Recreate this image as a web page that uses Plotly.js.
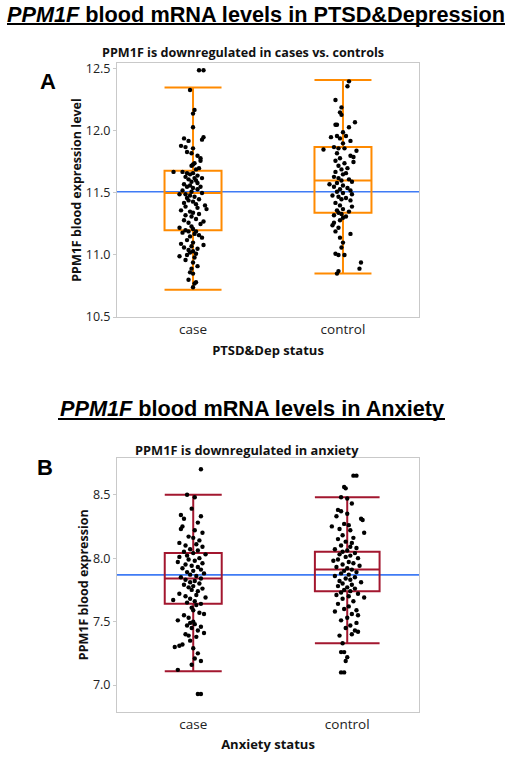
<!DOCTYPE html>
<html>
<head>
<meta charset="utf-8">
<script src="https://cdn.plot.ly/plotly-3.0.1.min.js"></script>
<style>html,body{margin:0;padding:0;background:#fff;}#chart{width:512px;height:759px;}</style>
</head>
<body>
<div id="chart"></div>
<script>
// ---------- DATA ----------
var groups = ['case', 'control'];

// Panel A: PTSD & Depression
var caseA_y = [12.49,12.49,12.33,12.17,12.14,12.03,11.94,11.93,11.95,11.92,11.88,11.87,11.86,11.83,11.82,11.80,11.78,11.76,11.74,11.73,11.72,11.70,11.69,11.67,11.67,11.66,11.66,11.65,11.64,11.63,11.62,11.62,11.61,11.60,11.59,11.58,11.57,11.56,11.55,11.55,11.54,11.53,11.52,11.51,11.50,11.49,11.49,11.48,11.47,11.46,11.45,11.44,11.43,11.42,11.41,11.40,11.39,11.38,11.37,11.36,11.35,11.34,11.33,11.32,11.31,11.29,11.28,11.27,11.26,11.25,11.23,11.22,11.21,11.20,11.19,11.19,11.18,11.17,11.16,11.15,11.14,11.12,11.10,11.09,11.08,11.07,11.06,11.05,11.04,11.03,11.02,11.01,11.00,10.99,10.98,10.96,10.94,10.91,10.89,10.86,10.85,10.80,10.78,10.77,10.74];
var caseA_jit = [0.04,0.07,-0.02,0.01,0.00,0.00,-0.06,0.06,0.07,-0.03,-0.08,-0.05,0.00,-0.04,-0.01,0.03,0.05,0.05,0.01,0.00,-0.01,0.04,0.02,-0.13,-0.07,-0.04,0.00,-0.02,0.03,-0.05,0.01,0.06,-0.03,0.02,-0.01,0.03,-0.06,-0.02,-0.04,0.05,0.00,0.03,-0.07,-0.01,0.06,-0.09,-0.05,-0.02,0.01,-0.04,0.04,-0.03,0.00,-0.06,0.02,0.08,-0.05,0.03,0.09,-0.08,-0.02,0.00,0.04,-0.05,-0.01,0.02,-0.06,0.07,-0.03,0.05,-0.01,-0.09,0.00,-0.05,-0.03,0.02,-0.07,0.01,0.04,-0.02,0.06,-0.04,0.00,-0.08,0.07,-0.01,-0.06,0.03,-0.03,0.00,-0.02,0.02,-0.04,-0.09,0.01,-0.05,0.00,0.03,-0.01,-0.02,0.00,-0.03,0.02,0.01,0.00];
var ctrlA_y = [12.40,12.36,12.25,12.19,12.15,12.13,12.07,12.05,12.05,12.03,11.99,11.96,11.96,11.95,11.94,11.92,11.90,11.87,11.86,11.86,11.85,11.84,11.82,11.80,11.79,11.78,11.76,11.75,11.74,11.72,11.70,11.69,11.67,11.66,11.65,11.63,11.62,11.61,11.60,11.59,11.58,11.57,11.56,11.55,11.54,11.53,11.52,11.51,11.50,11.49,11.48,11.47,11.46,11.45,11.44,11.42,11.40,11.39,11.37,11.36,11.35,11.34,11.33,11.32,11.31,11.30,11.28,11.26,11.24,11.22,11.19,11.17,11.14,11.10,11.06,11.01,11.00,11.00,10.94,10.89,10.87,10.85];
var ctrlA_jit = [0.04,0.03,-0.05,-0.01,-0.02,-0.01,0.08,-0.05,-0.04,0.04,0.00,-0.04,0.02,-0.08,-0.02,0.05,0.00,-0.06,-0.03,0.01,-0.13,0.09,-0.04,0.05,0.07,-0.02,-0.05,0.07,0.01,-0.03,0.03,-0.01,-0.05,0.02,0.00,-0.06,-0.03,0.04,-0.01,0.06,-0.04,-0.09,0.00,-0.06,0.03,-0.02,0.05,-0.04,0.00,0.06,-0.07,-0.03,0.02,-0.01,0.05,-0.05,-0.02,0.06,0.00,-0.04,0.04,-0.03,-0.01,-0.06,0.02,0.00,-0.02,-0.06,-0.07,-0.03,-0.05,0.05,-0.02,0.00,-0.01,-0.05,-0.03,0.01,0.12,0.11,-0.03,-0.04];
// box statistics [case, control]
var q1A = [11.20, 11.34];
var medA = [11.50, 11.60];
var q3A = [11.68, 11.87];
var loA = [10.72, 10.85];
var hiA = [12.35, 12.41];
var meanA = 11.51;

// Panel B: Anxiety
var caseB_y = [8.70,8.50,8.48,8.39,8.34,8.33,8.31,8.28,8.25,8.23,8.22,8.20,8.17,8.16,8.14,8.12,8.11,8.10,8.09,8.07,8.06,8.05,8.04,8.03,8.02,8.01,8.00,7.99,7.98,7.97,7.96,7.95,7.94,7.93,7.92,7.91,7.90,7.89,7.88,7.87,7.86,7.85,7.84,7.83,7.82,7.81,7.80,7.79,7.78,7.77,7.76,7.75,7.74,7.72,7.71,7.70,7.69,7.68,7.67,7.66,7.65,7.64,7.63,7.61,7.59,7.57,7.56,7.55,7.53,7.51,7.50,7.49,7.48,7.47,7.46,7.45,7.43,7.41,7.40,7.39,7.38,7.35,7.32,7.31,7.30,7.29,7.25,7.21,7.19,7.16,7.12,6.93,6.93];
var caseB_jit = [0.05,-0.04,0.01,-0.01,-0.08,0.05,-0.06,0.03,-0.07,-0.08,0.01,0.06,-0.03,0.00,0.04,-0.09,0.02,-0.05,0.06,-0.02,0.03,-0.06,0.00,0.08,-0.04,-0.09,0.04,-0.03,0.01,-0.10,0.06,-0.05,-0.01,0.03,-0.07,0.05,0.00,-0.04,0.07,-0.02,0.02,-0.08,0.05,-0.05,0.01,-0.02,0.04,-0.06,0.00,-0.03,0.06,-0.01,0.03,-0.09,0.02,-0.05,0.08,-0.02,-0.13,0.01,-0.04,0.05,0.02,-0.01,0.00,0.04,0.07,-0.06,-0.03,-0.10,0.00,-0.02,0.01,-0.04,0.05,-0.01,0.03,0.07,-0.05,-0.03,0.02,-0.02,-0.07,-0.09,-0.12,0.00,0.03,0.01,0.05,-0.01,-0.10,0.03,0.05];
var ctrlB_y = [8.65,8.65,8.56,8.55,8.48,8.47,8.43,8.38,8.37,8.35,8.33,8.31,8.30,8.27,8.26,8.25,8.23,8.22,8.20,8.18,8.16,8.15,8.13,8.12,8.10,8.09,8.08,8.07,8.06,8.05,8.04,8.03,8.02,8.01,8.00,7.99,7.98,7.97,7.96,7.95,7.94,7.93,7.92,7.91,7.90,7.89,7.88,7.87,7.86,7.85,7.84,7.83,7.82,7.81,7.80,7.79,7.78,7.77,7.76,7.75,7.74,7.73,7.72,7.71,7.70,7.69,7.68,7.66,7.64,7.62,7.60,7.59,7.58,7.56,7.55,7.53,7.51,7.49,7.47,7.45,7.43,7.42,7.40,7.39,7.33,7.26,7.26,7.22,7.19,7.10,7.10];
var ctrlB_jit = [0.04,0.06,-0.02,-0.01,-0.04,0.00,0.03,-0.06,-0.04,0.00,-0.07,0.09,0.10,-0.02,0.01,-0.10,-0.05,0.02,0.11,-0.03,0.04,-0.06,-0.01,0.03,-0.04,0.02,0.06,-0.08,0.00,-0.03,0.05,-0.05,0.02,-0.01,0.07,-0.06,-0.09,0.01,0.04,-0.03,0.08,-0.07,0.00,0.03,-0.02,0.06,-0.04,0.01,-0.08,0.05,-0.01,0.02,-0.05,0.09,-0.03,0.03,-0.06,0.00,0.05,-0.02,0.02,-0.04,0.07,-0.07,0.01,0.11,-0.03,0.04,-0.06,0.01,-0.02,0.06,-0.08,0.03,0.07,0.00,-0.04,0.06,0.02,-0.01,0.05,0.07,0.03,-0.05,-0.03,-0.04,-0.02,0.00,-0.01,-0.04,-0.02];
var q1B = [7.64, 7.74];
var medB = [7.84, 7.91];
var q3B = [8.04, 8.05];
var loB = [7.11, 7.33];
var hiB = [8.50, 8.48];
var meanB = 7.868;

// ---------- STYLE ----------
var orange = '#FF8A00';
var crimson = '#A3172F';
var blue = '#3F7BF5';
var frameCol = '#c9c9c9';
var sansUI = '"Open Sans", "Noto Sans", sans-serif';
var arial = '"Liberation Sans", Arial, sans-serif';

function jitterX(idx, jit) { return jit.map(function (j) { return idx + j; }); }

function boxTrace(i, q1, med, q3, lo, hi, color, width, xa, ya) {
  return {
    type: 'box', x: [i], q1: [q1[i]], median: [med[i]], q3: [q3[i]],
    lowerfence: [lo[i]], upperfence: [hi[i]], width: width, whiskerwidth: 1,
    boxpoints: false, fillcolor: 'rgba(0,0,0,0)',
    line: { color: color, width: 2 }, xaxis: xa, yaxis: ya,
    hoverinfo: 'skip', showlegend: false
  };
}
function dotTrace(i, ys, jit, xa, ya) {
  return {
    type: 'scatter', mode: 'markers', x: jitterX(i, jit), y: ys,
    marker: { color: '#000', size: 4.4 }, xaxis: xa, yaxis: ya,
    hoverinfo: 'skip', showlegend: false, cliponaxis: false
  };
}

var traces = [
  boxTrace(0, q1A, medA, q3A, loA, hiA, orange, 0.38, 'x', 'y'),
  boxTrace(1, q1A, medA, q3A, loA, hiA, orange, 0.38, 'x', 'y'),
  dotTrace(0, caseA_y, caseA_jit, 'x', 'y'),
  dotTrace(1, ctrlA_y, ctrlA_jit, 'x', 'y'),
  boxTrace(0, q1B, medB, q3B, loB, hiB, crimson, 0.37, 'x2', 'y2'),
  boxTrace(1, q1B, medB, q3B, loB, hiB, crimson, 0.42, 'x2', 'y2'),
  dotTrace(0, caseB_y, caseB_jit, 'x2', 'y2'),
  dotTrace(1, ctrlB_y, ctrlB_jit, 'x2', 'y2')
];

function xAxis(domain, range, anchor, title) {
  return {
    domain: domain, range: range, anchor: anchor,
    tickvals: [0, 1], ticktext: groups, ticks: '', ticklabelstandoff: 0,
    showgrid: false, zeroline: false, showline: true, mirror: true,
    linecolor: frameCol, linewidth: 1,
    tickfont: { family: sansUI, size: 13.5, color: '#222' },
    title: { text: '<b>' + title + '</b>', standoff: 8, font: { family: sansUI, size: 13, color: '#111' } }
  };
}
function yAxis(domain, range, anchor, dtick, tick0, title) {
  return {
    domain: domain, range: range, anchor: anchor, dtick: dtick, tick0: tick0,
    tickformat: '.1f', ticks: 'outside', ticklen: 3, tickcolor: frameCol, tickwidth: 1,
    ticklabelstandoff: 0,
    showgrid: false, zeroline: false, showline: true, mirror: true,
    linecolor: frameCol, linewidth: 1,
    tickfont: { family: sansUI, size: 12.5, color: '#222' },
    title: { text: '<b>' + title + '</b>', standoff: 1, font: { family: sansUI, size: 12.5, color: '#111' } }
  };
}

var layout = {
  width: 512, height: 759,
  margin: { l: 0, r: 0, t: 0, b: 0 },
  paper_bgcolor: '#fff', plot_bgcolor: '#fff',
  showlegend: false,
  xaxis: xAxis([117 / 512, 419 / 512], [-0.507, 1.507], 'y', 'PTSD&amp;Dep status'),
  yaxis: yAxis([1 - 317 / 759, 1 - 63 / 759], [10.5, 12.548], 'x', 0.5, 10.5, 'PPM1F blood expression level'),
  xaxis2: xAxis([117 / 512, 419 / 512], [-0.495, 1.466], 'y2', 'Anxiety status'),
  yaxis2: yAxis([47.5 / 759, 1 - 458 / 759], [6.792, 8.789], 'x2', 0.5, 7.0, 'PPM1F blood expression'),
  shapes: [
    { type: 'line', xref: 'x domain', yref: 'y', x0: 0, x1: 1, y0: meanA, y1: meanA, line: { color: blue, width: 1.6 }, layer: 'below' },
    { type: 'line', xref: 'x2 domain', yref: 'y2', x0: 0, x1: 1, y0: meanB, y1: meanB, line: { color: blue, width: 1.6 }, layer: 'below' },
    // title underlines
    { type: 'line', xref: 'paper', yref: 'paper', x0: 7 / 512, x1: 505 / 512, y0: 1 - 24 / 759, y1: 1 - 24 / 759, line: { color: '#000', width: 2 } },
    { type: 'line', xref: 'paper', yref: 'paper', x0: 58 / 512, x1: 445 / 512, y0: 1 - 419 / 759, y1: 1 - 419 / 759, line: { color: '#000', width: 2 } }
  ],
  annotations: [
    { xref: 'paper', yref: 'paper', x: 256 / 512, y: 1 - 15 / 759, xanchor: 'center', yanchor: 'middle', showarrow: false,
      text: '<i>PPM1F</i> blood mRNA levels in PTSD&amp;Depression', font: { family: arial, size: 21.7, color: '#000', weight: 'bold' } },
    { xref: 'paper', yref: 'paper', x: 243 / 512, y: 1 - 53 / 759, xanchor: 'center', yanchor: 'middle', showarrow: false,
      text: '<b>PPM1F is downregulated in cases vs. controls</b>', font: { family: sansUI, size: 12.6, color: '#111' } },
    { xref: 'paper', yref: 'paper', x: 48 / 512, y: 1 - 81 / 759, xanchor: 'center', yanchor: 'middle', showarrow: false,
      text: '<b>A</b>', font: { family: arial, size: 22, color: '#000' } },
    { xref: 'paper', yref: 'paper', x: 251.5 / 512, y: 1 - 408 / 759, xanchor: 'center', yanchor: 'middle', showarrow: false,
      text: '<i>PPM1F</i> blood mRNA levels in Anxiety', font: { family: arial, size: 21.7, color: '#000', weight: 'bold' } },
    { xref: 'paper', yref: 'paper', x: 246.5 / 512, y: 1 - 450 / 759, xanchor: 'center', yanchor: 'middle', showarrow: false,
      text: '<b>PPM1F is downregulated in anxiety</b>', font: { family: sansUI, size: 12.8, color: '#111' } },
    { xref: 'paper', yref: 'paper', x: 45 / 512, y: 1 - 467 / 759, xanchor: 'center', yanchor: 'middle', showarrow: false,
      text: '<b>B</b>', font: { family: arial, size: 22, color: '#000' } }
  ]
};

Plotly.newPlot('chart', traces, layout, { displayModeBar: false, staticPlot: true });
</script>
</body>
</html>
